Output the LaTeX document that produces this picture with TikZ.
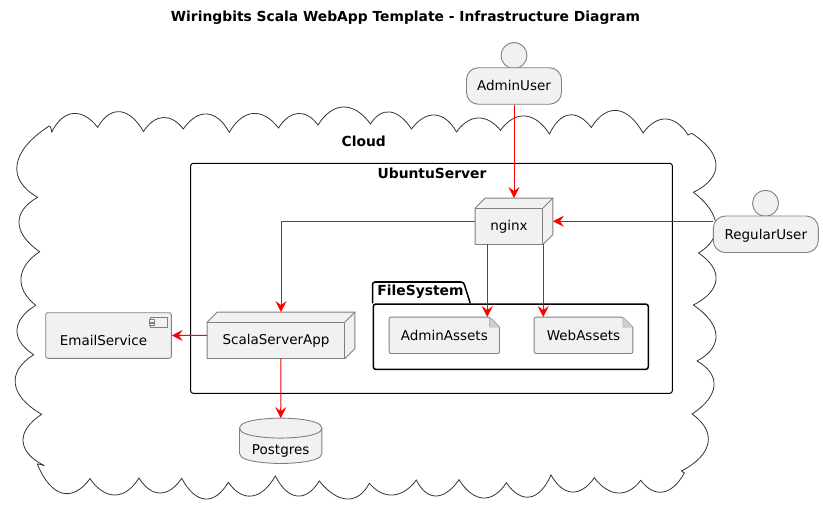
\documentclass[tikz,border=0pt]{standalone}
\usepackage{fontspec}
\setmainfont{DejaVu Sans}
\usetikzlibrary{arrows.meta,backgrounds,calc}
\newcommand{\plainfont}{\fontsize{13.5}{16}\selectfont}
\newcommand{\titlefont}{\fontsize{13.85}{16}\selectfont\bfseries}
\definecolor{boxfill}{HTML}{F1F1F1}
\definecolor{boxline}{HTML}{808080}
\tikzset{
  shapeline/.style={draw=boxline,fill=boxfill,line width=0.9pt},
  flow/.style={-{Stealth[length=11pt,width=11pt,inset=4pt]},red,line width=1pt},
  cloudline/.style={black!80,line width=0.8pt,line cap=round},
  pkgbox/.style={draw=black,line width=1pt,rounded corners=2.5pt,inner sep=0pt},
  pkgtitle/.style={font=\titlefont,inner sep=0pt},
  textbox/.style={inner sep=0pt,font=\plainfont,text height=22pt,text depth=3pt},
  deploybox/.style={textbox,execute at begin node=\hspace*{-10pt}},
  notebox/.style={inner sep=0pt,font=\plainfont,text height=14pt,text depth=4pt},
  userbox/.style={shapeline,inner sep=0pt,font=\plainfont,rounded corners=12pt,minimum height=36.5pt,text height=13pt,text depth=3pt},
  userhead/.style={shapeline,circle,inner sep=0pt,minimum size=26pt},
}
\begin{document}
\begin{tikzpicture}[x=1pt,y=-1pt]
  \useasboundingbox (0,0) rectangle (823,516);
  \node[font=\titlefont] (title) at (405.5,18) {Wiringbits Scala WebApp Template - Infrastructure Diagram};

  % cloud outline, clockwise: top of each puff, then the dent after it
  \foreach \px/\py/\qx/\qy [remember=\qx as \rx (initially 51.7),remember=\qy as \ry (initially 132)] in {
      73/113.5/97.7/127.3, 120/111.7/143.5/131.5, 163/117.5/183.3/129, 207/114/229.3/132.3,
      253/113.5/278.5/128, 298/113.5/318/125, 343.5/107/370.5/124, 390/112/411.5/129,
      435/115/456.5/132, 478/118/500.5/130.3, 525/116/549.5/134, 569/115/591.3/127.5,
      617/110.5/643/133, 666/119/688/135, 690/134/692/133.5,
      716/165/693.3/192.3, 716/225/698.5/253, 716/280/693.3/305, 716/335/697/361,
      714/386/692/414, 708/443/681.5/471, 683/472/684.3/473,
      663/492/640.7/480.3, 618/493/594.3/477.7, 572/492/551/475, 530/497/506.3/482.7,
      483/498/459/479.7, 436/496/416.3/480, 393/495/369.3/483.3, 347/499/319.3/481,
      297/496/275.3/476, 252/496/228.3/482.3, 205/499/181.7/478.3, 160/493/139/478,
      115/495/90/478.7, 62/493/37.3/464, 41/464.5/44/465.5,
      23/441/41.7/414.3, 15.3/384/33.7/354.7, 17/330/35.7/305.3, 21/278/39.7/251.7,
      19/223/37.7/197.3, 17/165/47/127.5, 50/126.5/51.7/132}
    \draw[cloudline] (\rx,\ry)
      .. controls ({\rx+.3*(\qx-\rx)+1.333*(\px-(\rx+\qx)/2)},{\ry+.3*(\qy-\ry)+1.333*(\py-(\ry+\qy)/2)})
      and ({\qx+.3*(\rx-\qx)+1.333*(\px-(\rx+\qx)/2)},{\qy+.3*(\ry-\qy)+1.333*(\py-(\ry+\qy)/2)})
      .. (\qx,\qy);
  \node[pkgtitle] (cloud) at (363.8,141) {Cloud};

  \node[pkgbox,minimum width=481.6pt,minimum height=230pt] (ubuntu) at (431.5,278.3) {};
  \node[pkgtitle] (ubuntutitle) at (432,173) {UbuntuServer};

  \node[pkgbox,line width=1.5pt,minimum width=275pt,minimum height=65.3pt] (filesystem) at (510.8,336.7) {};
  \node[pkgtitle] (filesystemtitle) at (420.5,291.5) {FileSystem};
  \draw[black,line width=1.5pt,rounded corners=2.5pt] (filesystem.north west) -- ++(0,-21.3) -- ++(91,0) -- ++(6.7,21.3);

  \node[deploybox,minimum width=77.4pt,minimum height=46pt] (nginx) at (514,221.3) {nginx};
  \node[deploybox,minimum width=147.4pt,minimum height=46pt] (scala) at (281,335.3) {ScalaServerApp};
  \node[deploybox,shapeline,rounded corners=2pt,minimum width=125.6pt,minimum height=45.6pt] (email) at (108.5,335.5) {EmailService};
  \node[textbox,text height=31pt,minimum width=82pt,minimum height=45pt] (postgres) at (280.7,440.8) {Postgres};
  \node[notebox,minimum width=110pt,minimum height=36pt] (adminassets) at (444.3,335.3) {AdminAssets};
  \node[notebox,minimum width=98.4pt,minimum height=36pt] (webassets) at (583.5,335.3) {WebAssets};

  \node[userhead] (adminhead) at (514,55.5) {};
  \node[userbox,minimum width=95pt] (adminuser) at (514,86) {AdminUser};
  \node[userhead] (regularhead) at (765.5,203.3) {};
  \node[userbox,minimum width=105pt] (regularuser) at (765.8,234.3) {RegularUser};

  % component icon
  \draw[shapeline] (150.7,317.3) rectangle (167,327.3);
  \draw[shapeline] (149.3,319.8) rectangle (154,322);
  \draw[shapeline] (149.3,323.6) rectangle (154,325.8);

  \begin{scope}[on background layer]
    \foreach \n in {nginx,scala} {
      \draw[shapeline] (\n.south west) -- ($(\n.north west)+(0,10)$) -- ($(\n.north west)+(10,0)$) -- (\n.north east)
        -- ($(\n.south east)+(0,-10)$) -- ($(\n.south east)+(-10,0)$) -- cycle;
      \draw[shapeline,fill=none] ($(\n.north west)+(0,10)$) -- ($(\n.north east)+(-10,10)$) -- ($(\n.south east)+(-10,0)$);
      \draw[shapeline,fill=none] ($(\n.north east)+(-10,10)$) -- (\n.north east);
    }
    \foreach \n in {adminassets,webassets} {
      \draw[shapeline,rounded corners=2pt] (\n.north west) -- ($(\n.north east)+(-10,0)$) [sharp corners] -- ($(\n.north east)+(0,10)$) [rounded corners=2pt] -- (\n.south east) -- (\n.south west) -- cycle;
      \draw[draw=boxline!60,fill=boxfill!70!boxline,line width=0.7pt] ($(\n.north east)+(-10,0)$) -- ($(\n.north east)+(0,10)$) -- ($(\n.north east)+(-10,10)$) -- cycle;
    }
    \draw[shapeline] ($(postgres.north west)+(0,10)$) .. controls ($(postgres.north west)+(0,0)$) and (postgres.north) .. (postgres.north)
      .. controls (postgres.north) and (postgres.north east) .. ($(postgres.north east)+(0,10)$)
      -- ($(postgres.south east)+(0,-10)$) .. controls (postgres.south east) and (postgres.south) .. (postgres.south)
      .. controls (postgres.south) and (postgres.south west) .. ($(postgres.south west)+(0,-10)$) -- cycle;
    \draw[shapeline,fill=none] ($(postgres.north west)+(0,10)$) .. controls ($(postgres.north west)+(0,20)$) and ($(postgres.north)+(0,20)$) .. ($(postgres.north)+(0,20)$)
      .. controls ($(postgres.north)+(0,20)$) and ($(postgres.north east)+(0,20)$) .. ($(postgres.north east)+(0,10)$);
  \end{scope}

  \draw[flow] (adminuser.south) -- (nginx.north);
  \draw[flow] (nginx.east -| regularuser.west) -- (nginx.east);
  \draw[flow] (nginx.west) -| (scala.north);
  \draw[flow] ([xshift=-26.7pt]nginx.south) -- ([xshift=43pt]adminassets.north);
  \draw[flow] ([xshift=29.3pt]nginx.south) -- ([xshift=-40.2pt]webassets.north);
  \draw[flow] (scala.west) -- (email.east);
  \draw[flow] (scala.south) -- (postgres.north);
\end{tikzpicture}
\end{document}
